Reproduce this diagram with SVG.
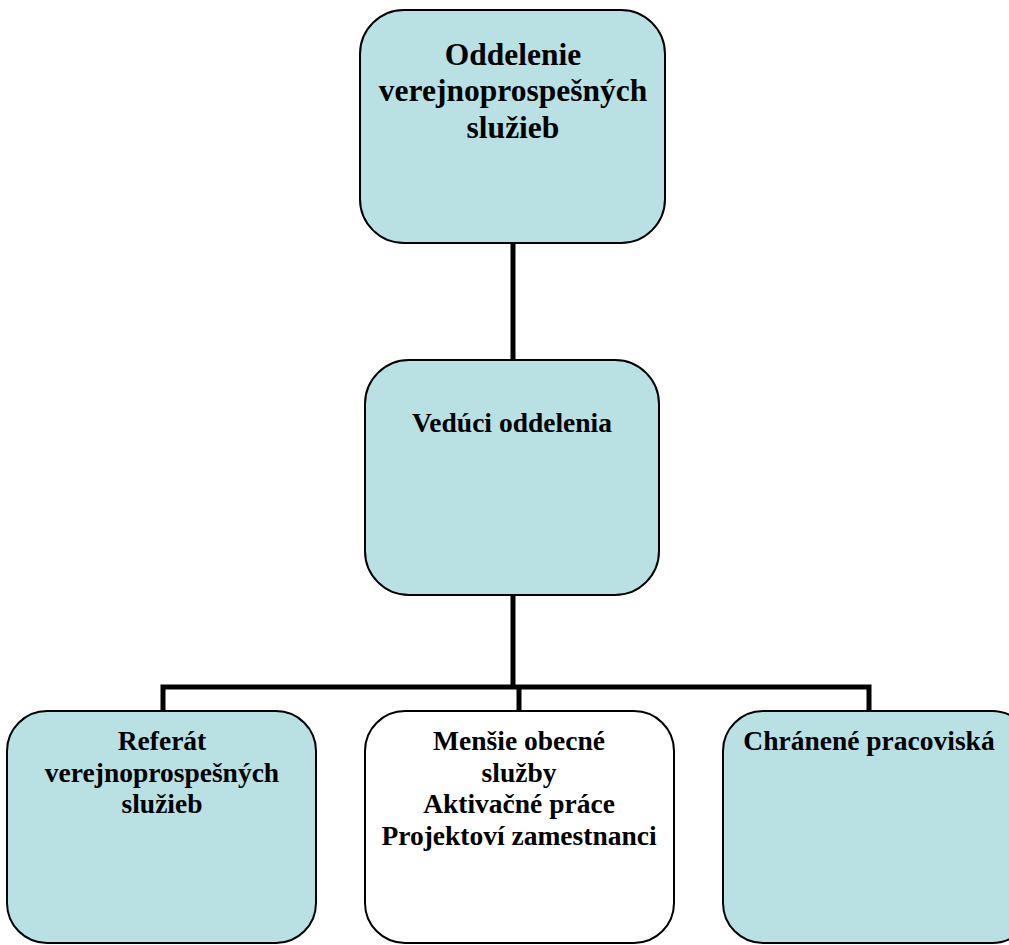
<svg xmlns="http://www.w3.org/2000/svg" width="1009" height="945" viewBox="0 0 1009 945">
<style>
.box{fill:#b9e0e3;stroke:#000;stroke-width:2}
.wbox{fill:#fff;stroke:#000;stroke-width:2}
.conn{fill:none;stroke:#000;stroke-width:5}
text{font-family:"Liberation Serif","Times New Roman",serif;font-weight:bold;fill:#000;text-anchor:middle}
.t1{font-size:31.5px}
.t2{font-size:27.5px}
</style>
<rect width="1009" height="945" fill="#fff"/>
<g id="connectors">
<line class="conn" x1="513" y1="243" x2="513" y2="360"/>
<line class="conn" x1="513" y1="595" x2="513" y2="687"/>
<polyline class="conn" points="163,711 163,687 869,687 869,711"/>
<line class="conn" x1="519" y1="687" x2="519" y2="711"/>
</g>
<g id="node-top">
<rect class="box" x="360" y="10" width="305" height="233" rx="44"/>
<text class="t1" x="513" y="65">Oddelenie</text>
<text class="t1" x="513" y="101">verejnoprospešných</text>
<text class="t1" x="513" y="138">služieb</text>
</g>
<g id="node-mid">
<rect class="box" x="365" y="360" width="294" height="235" rx="44"/>
<text class="t2" x="512" y="432">Vedúci oddelenia</text>
</g>
<g id="node-left">
<rect class="box" x="7" y="711" width="309" height="232" rx="40"/>
<text class="t2" x="162" y="750">Referát</text>
<text class="t2" x="162" y="782">verejnoprospešných</text>
<text class="t2" x="162" y="813">služieb</text>
</g>
<g id="node-center">
<rect class="wbox" x="365" y="711" width="309" height="232" rx="40"/>
<text class="t2" x="519" y="750">Menšie obecné</text>
<text class="t2" x="519" y="782">služby</text>
<text class="t2" x="519" y="813">Aktivačné práce</text>
<text class="t2" x="519" y="845">Projektoví zamestnanci</text>
</g>
<g id="node-right">
<rect class="box" x="723" y="711" width="309" height="232" rx="40"/>
<text class="t2" x="869" y="750">Chránené pracoviská</text>
</g>
</svg>
